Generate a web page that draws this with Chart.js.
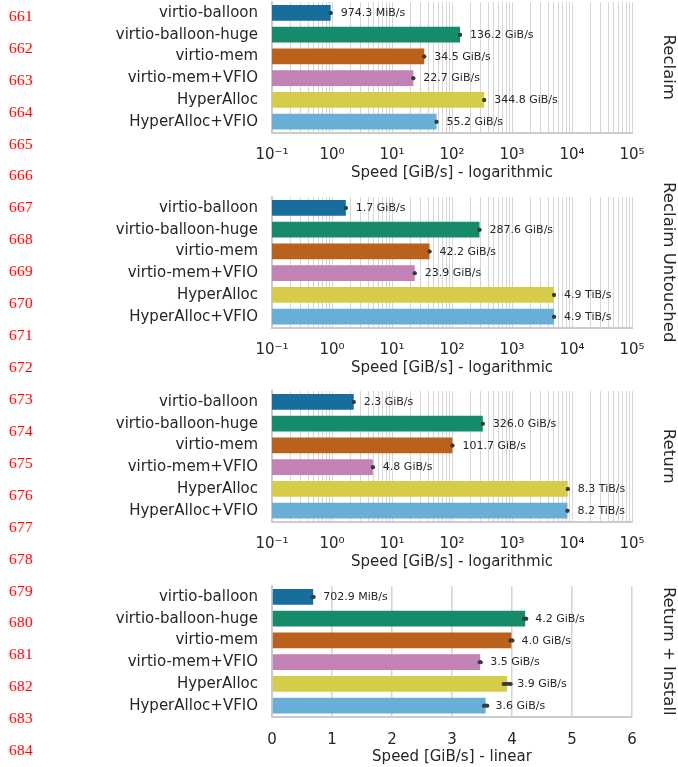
<!DOCTYPE html>
<html><head><meta charset="utf-8">
<script src="https://cdn.jsdelivr.net/npm/chart.js@4"></script>
<style>
html,body{margin:0;padding:0;background:#fff;width:678px;height:767px;overflow:hidden;position:relative}
.ln{position:absolute;left:9px;font-family:"Liberation Serif","DejaVu Serif",serif;font-size:15.5px;color:#f00;line-height:20px;letter-spacing:0.3px}
.panel{position:absolute;left:0;width:678px;height:210px}
canvas{display:block}
</style></head><body>
<div id="lines"></div>
<div class="panel" style="top:-20px"><canvas id="c0" width="678" height="210"></canvas></div>
<div class="panel" style="top:175px"><canvas id="c1" width="678" height="210"></canvas></div>
<div class="panel" style="top:369px"><canvas id="c2" width="678" height="210"></canvas></div>
<div class="panel" style="top:564px"><canvas id="c3" width="678" height="210"></canvas></div>
<script>
// ---- data ----
const categories = ['virtio-balloon','virtio-balloon-huge','virtio-mem','virtio-mem+VFIO','HyperAlloc','HyperAlloc+VFIO'];
const panelTitles = ['Reclaim','Reclaim Untouched','Return','Return + Install'];
// speeds in GiB/s
const reclaim = [0.9515, 136.2, 34.5, 22.7, 344.8, 55.2];
const reclaimUntouched = [1.7, 287.6, 42.2, 23.9, 5017.6, 5017.6];
const returnSpeed = [2.3, 326.0, 101.7, 4.8, 8499.2, 8396.8];
const returnInstall = [0.6864, 4.22, 3.99, 3.47, 3.92, 3.56];
const returnInstallErr = [0.01, 0.02, 0.02, 0.01, 0.06, 0.03];
const logTicks = [0.1, 1, 10, 100, 1000, 10000, 100000];
const logTickLabels = ['10⁻¹','10⁰','10¹','10²','10³','10⁴','10⁵'];
const linTicks = [0,1,2,3,4,5,6];
const linTickLabels = ['0','1','2','3','4','5','6'];
const lineNumbers = [661,662,663,664,665,666,667,668,669,670,671,672,673,674,675,676,677,678,679,680,681,682,683,684];
const barColors = ['#176D9C','#168B6B','#BA611B','#C282B6','#D5CC4A','#68AFD7'];

// ---- line numbers ----
const ln = document.getElementById('lines');
lineNumbers.forEach((n,i)=>{
  const d=document.createElement('div'); d.className='ln'; d.textContent=n;
  d.style.top=(15.8 + i*31.93 - 10)+'px'; ln.appendChild(d);
});

const FONT = "'DejaVu Sans', sans-serif";
const TXT = '#262626';

function fmt(v){
  if (v < 1) return (v*1024).toFixed(1)+' MiB/s';
  if (v >= 1024) return (v/1024).toFixed(1)+' TiB/s';
  return v.toFixed(1)+' GiB/s';
}

const annot = {
  id:'annot',
  afterDatasetsDraw(chart, args, opts){
    const ctx = chart.ctx, xs = chart.scales.x;
    const ds = chart.data.datasets[0];
    const meta = chart.getDatasetMeta(0);
    ctx.save();
    meta.data.forEach((bar,i)=>{
      const v = ds.data[i];
      const e = opts.errs ? opts.errs[i] : 0;
      const xv = xs.getPixelForValue(v);
      const xa = xs.getPixelForValue(v - e), xb = xs.getPixelForValue(v + e);
      ctx.fillStyle = '#3a3a3a'; ctx.strokeStyle = '#3a3a3a';
      ctx.lineWidth = 3.8;
      ctx.beginPath(); ctx.moveTo(xa, bar.y); ctx.lineTo(xb, bar.y); ctx.stroke();
      ctx.beginPath(); ctx.arc(xa, bar.y, 2.0, 0, Math.PI*2); ctx.fill();
      ctx.beginPath(); ctx.arc(xb, bar.y, 2.0, 0, Math.PI*2); ctx.fill();
      ctx.fillStyle = TXT; ctx.font = '11px ' + FONT;
      ctx.textAlign = 'left'; ctx.textBaseline = 'middle';
      ctx.fillText(fmt(v), xv + 10, bar.y + 0.5);
    });
    // right side title
    const a = chart.chartArea;
    ctx.translate(668, (a.top + a.bottom)/2);
    ctx.rotate(Math.PI/2);
    ctx.font = '16.5px ' + FONT; ctx.fillStyle = TXT;
    ctx.textAlign = 'center'; ctx.textBaseline = 'middle';
    ctx.fillText(opts.title, 0, 0);
    ctx.restore();
  }
};

function sameVal(a,b){ return Math.abs(Math.log10(a) - Math.log10(b)) < 1e-9; }

function makeChart(id, values, errs, title, isLog){
  let xScale;
  if (isLog){
    const gridVals = [];
    for (let k=-1; k<5; k++) for (let m=1; m<10; m++) gridVals.push(m*Math.pow(10,k));
    gridVals.push(100000);
    xScale = {
      type:'logarithmic', min:0.1, max:100000,
      afterBuildTicks(s){ s.ticks = gridVals.map(v=>({value:v})); },
      ticks:{autoSkip:false, maxRotation:0, padding:14, color:TXT, font:{size:15, family:FONT},
        callback(v){ const i = logTicks.findIndex(t=>sameVal(t,v)); return i>=0 ? logTickLabels[i] : ''; }},
      grid:{color:'#d6d6d6', lineWidth:1, drawTicks:false},
      border:{display:true, color:'#cccccc', width:2},
      title:{display:true, text:'Speed [GiB/s] - logarithmic', color:TXT, font:{size:15, family:FONT}, padding:{top:2,bottom:8}},
      afterFit(s){ s.height = 57.5; s.paddingLeft = 0; s.paddingRight = 0; }
    };
  } else {
    xScale = {
      type:'linear', min:0, max:6,
      afterBuildTicks(s){ s.ticks = linTicks.map(v=>({value:v})); },
      ticks:{autoSkip:false, maxRotation:0, padding:15, color:TXT, font:{size:15, family:FONT},
        callback(v){ const i = linTicks.indexOf(v); return i>=0 ? linTickLabels[i] : ''; }},
      grid:{color:'#d4d4d4', lineWidth:1.5, drawTicks:false},
      border:{display:true, color:'#cccccc', width:2},
      title:{display:true, text:'Speed [GiB/s] - linear', color:TXT, font:{size:15, family:FONT}, padding:{top:2,bottom:8}},
      afterFit(s){ s.height = 57.5; s.paddingLeft = 0; s.paddingRight = 0; }
    };
  }
  return new Chart(document.getElementById(id), {
    type:'bar',
    data:{labels:categories, datasets:[{data:values, backgroundColor:barColors, borderWidth:0, barPercentage:0.72, categoryPercentage:1}]},
    options:{
      indexAxis:'y', responsive:false, animation:false,
      layout:{padding:{top:22, right:46, left:0, bottom:0}},
      plugins:{legend:{display:false}, tooltip:{enabled:false}, annot:{errs, title}},
      scales:{
        y:{grid:{display:false, drawTicks:false}, border:{display:true, color:'#cccccc', width:2},
           ticks:{autoSkip:false, color:TXT, font:{size:15, family:FONT}, padding:14},
           afterFit(s){ s.width = 272; s.paddingTop = 0; s.paddingBottom = 0; }},
        x:xScale
      }
    },
    plugins:[annot]
  });
}

makeChart('c0', reclaim, null, panelTitles[0], true);
makeChart('c1', reclaimUntouched, null, panelTitles[1], true);
makeChart('c2', returnSpeed, null, panelTitles[2], true);
makeChart('c3', returnInstall, returnInstallErr, panelTitles[3], false);
</script>
</body></html>
